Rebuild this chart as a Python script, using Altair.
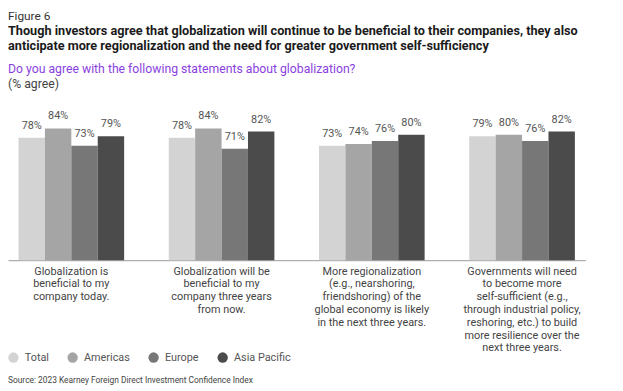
import altair as alt
import pandas as pd

questions = [
    "Globalization is|beneficial to my|company today.",
    "Globalization will be|beneficial to my|company three years|from now.",
    "More regionalization|(e.g., nearshoring,|friendshoring) of the|global economy is likely|in the next three years.",
    "Governments will need|to become more|self-sufficient (e.g.,|through industrial policy,|reshoring, etc.) to build|more resilience over the|next three years.",
]
series = ["Total", "Americas", "Europe", "Asia Pacific"]
total = [78, 78, 73, 79]
americas = [84, 84, 74, 80]
europe = [73, 71, 76, 76]
asia_pacific = [79, 82, 80, 82]
colors = ["#d3d3d3", "#a5a5a5", "#777777", "#4b4b4b"]

rows = []
for s, vals in zip(series, [total, americas, europe, asia_pacific]):
    for q, v in zip(questions, vals):
        rows.append({"question": q, "series": s, "value": v})
df = pd.DataFrame(rows)

FONT = "Roboto"

x = alt.X(
    "question:N",
    sort=questions,
    scale=alt.Scale(paddingInner=0.297, paddingOuter=0.07),
    axis=alt.Axis(
        title=None,
        labelExpr="split(datum.label, '|')",
        labelAngle=0,
        labelAlign="center",
        labelBaseline="top",
        labelFontSize=11,
        labelLineHeight=13,
        labelFont=FONT,
        labelColor="#444444",
        labelPadding=5,
        labelLimit=300,
        ticks=False,
        domainColor="#999999",
        domainWidth=1,
        grid=False,
    ),
)
xo = alt.XOffset("series:N", sort=series, scale=alt.Scale(paddingInner=0, paddingOuter=0))
y = alt.Y("value:Q", scale=alt.Scale(domain=[0, 100]), axis=None)

base = alt.Chart(df)
bars = base.mark_bar().encode(
    x=x,
    xOffset=xo,
    y=y,
    color=alt.Color(
        "series:N",
        sort=series,
        scale=alt.Scale(domain=series, range=colors),
        legend=alt.Legend(
            orient="none",
            legendX=0,
            legendY=252,
            direction="horizontal",
            title=None,
            symbolType="circle",
            symbolSize=110,
            symbolStrokeWidth=0,
            labelFontSize=11,
            labelFont=FONT,
            labelColor="#555555",
            columnPadding=18,
            labelOffset=6,
        ),
    ),
)
labels = base.transform_calculate(lab="datum.value + '%'").mark_text(
    dy=-12, fontSize=11, font=FONT, color="#555555"
).encode(x=x, xOffset=xo, y=y, text="lab:N")

one = pd.DataFrame({"k": [0]})


def txt(t, yv, size, color, weight="normal"):
    return alt.Chart(one).mark_text(
        text=t, align="left", baseline="middle", fontSize=size, font=FONT,
        color=color, fontWeight=weight,
    ).encode(x=alt.value(0), y=alt.value(yv))


header = [
    txt("Figure 6", -88, 12, "#333333"),
    txt("Though investors agree that globalization will continue to be beneficial to their companies, they also", -73, 12.85, "#1a1a1a", "bold"),
    txt("anticipate more regionalization and the need for greater government self-sufficiency", -58, 12.85, "#1a1a1a", "bold"),
    txt("Do you agree with the following statements about globalization?", -35, 12.4, "#8a3fe0"),
    txt("(% agree)", -19, 12.4, "#444444"),
    txt("Source: 2023 Kearney Foreign Direct Investment Confidence Index", 280, 8.5, "#444444"),
]

chart = alt.layer(bars, labels, *header).properties(
    width=585,
    height=159,
    autosize=alt.AutoSizeParams(type="none"),
    padding={"left": 0, "top": 94, "right": 30, "bottom": 130},
).configure_view(stroke=None)

chart.save("out.html", embed_options={"renderer": "svg", "actions": False})
